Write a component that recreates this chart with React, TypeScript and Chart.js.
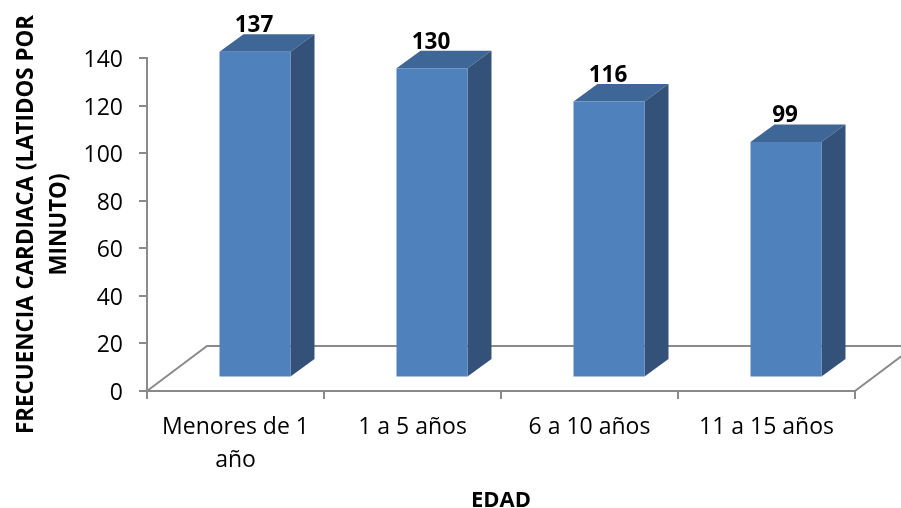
import React, { useEffect, useRef } from "react";
import { Chart, registerables } from "chart.js";

Chart.register(...registerables);

// Mean heart rate by age group
const categories = [["Menores de 1", "año"], "1 a 5 años", "6 a 10 años", "11 a 15 años"];
const heartRates = [137, 130, 116, 99];
const yTitleLines = ["FRECUENCIA CARDIACA (LATIDOS POR", "MINUTO)"];
const xTitle = "EDAD";

const FRONT = "#4F81BD";
const TOP = "#3E6696";
const SIDE = "#335179";
const AXIS = "#8A8A8A";

// Box extrusion and position of the boxes on the floor
const DEPTH_X = 24;
const DEPTH_Y = 17.5;
const SHIFT_X = 19.5;
const SHIFT_Y = 13.5;
const FLOOR_X = 60;
const FLOOR_Y = 45;
const Y_LABEL_NUDGE = 2.5;

const box3d = {
  id: "box3d",
  beforeDraw(chart: any) {
    // The value-axis labels sit slightly below their tick marks
    chart.scales.y.getLabelItems().forEach((item: any) => {
      if (!item.nudged) {
        item.options.translation = [item.options.translation[0], item.options.translation[1] + Y_LABEL_NUDGE];
        item.nudged = true;
      }
    });
  },
  beforeDatasetsDraw(chart: any) {
    const { ctx, chartArea, width } = chart;
    const { left, right, bottom } = chartArea;
    ctx.save();
    // Floor outline
    ctx.strokeStyle = AXIS;
    ctx.lineWidth = 2;
    ctx.beginPath();
    ctx.moveTo(left, bottom);
    ctx.lineTo(left + FLOOR_X, bottom - FLOOR_Y);
    ctx.lineTo(width, bottom - FLOOR_Y);
    ctx.moveTo(right, bottom);
    ctx.lineTo(right + FLOOR_X, bottom - FLOOR_Y);
    ctx.stroke();
    ctx.restore();

    ctx.save();
    ctx.translate(SHIFT_X, -SHIFT_Y);
    // Top and side faces of each box; the front face comes from the bar element
    chart.getDatasetMeta(0).data.forEach((bar: any) => {
      const l = bar.x - bar.width / 2;
      const r = bar.x + bar.width / 2;
      ctx.fillStyle = TOP;
      ctx.beginPath();
      ctx.moveTo(l, bar.y);
      ctx.lineTo(l + DEPTH_X, bar.y - DEPTH_Y);
      ctx.lineTo(r + DEPTH_X, bar.y - DEPTH_Y);
      ctx.lineTo(r, bar.y);
      ctx.closePath();
      ctx.fill();
      ctx.fillStyle = SIDE;
      ctx.beginPath();
      ctx.moveTo(r, bar.y);
      ctx.lineTo(r + DEPTH_X, bar.y - DEPTH_Y);
      ctx.lineTo(r + DEPTH_X, bar.base - DEPTH_Y);
      ctx.lineTo(r, bar.base);
      ctx.closePath();
      ctx.fill();
    });
  },
  afterDatasetsDraw(chart: any) {
    const { ctx } = chart;
    ctx.restore();
    // Value labels above each box
    ctx.save();
    ctx.font = "bold 22.5px 'Open Sans'";
    ctx.fillStyle = "#000000";
    ctx.textAlign = "center";
    ctx.textBaseline = "middle";
    chart.getDatasetMeta(0).data.forEach((bar: any, i: number) => {
      ctx.fillText(String(heartRates[i]), bar.x + SHIFT_X - 1, bar.y - SHIFT_Y - 26);
    });
    ctx.restore();
  },
};

export default function App() {
  const ref = useRef<HTMLCanvasElement>(null);
  useEffect(() => {
    const chart = new Chart(ref.current as HTMLCanvasElement, {
      type: "bar",
      data: {
        labels: categories as any,
        datasets: [
          {
            data: heartRates,
            backgroundColor: FRONT,
            borderWidth: 0,
            barPercentage: 0.401,
            categoryPercentage: 1,
            clip: false as any,
          },
        ],
      },
      options: {
        animation: false,
        responsive: false,
        layout: { padding: { top: 58, right: 46, left: 0, bottom: 0 } },
        plugins: { legend: { display: false }, tooltip: { enabled: false } },
        scales: {
          x: {
            grid: { drawOnChartArea: false, offset: true, color: AXIS, lineWidth: 2, tickLength: 8 },
            border: { color: AXIS, width: 2 },
            ticks: {
              color: "#000000",
              font: { family: "Open Sans", size: 23, lineHeight: 1.42 },
              maxRotation: 0,
              autoSkip: false,
              padding: 12,
            },
            title: {
              display: true,
              text: xTitle,
              color: "#000000",
              font: { family: "Open Sans", size: 22, weight: "bold", lineHeight: 0.62 },
              padding: { top: 0, bottom: 0 },
            },
            afterFit(scale: any) {
              scale.height = 117;
            },
          },
          y: {
            min: 0,
            max: 140,
            grid: { drawOnChartArea: false, color: AXIS, lineWidth: 2, tickLength: 8 },
            border: { color: AXIS, width: 2 },
            ticks: {
              stepSize: 20,
              color: "#000000",
              font: { family: "Open Sans", size: 23 },
              padding: 16,
            },
            title: {
              display: true,
              text: yTitleLines,
              color: "#000000",
              font: { family: "Open Sans", size: 22.4, weight: "bold", lineHeight: 1.47 },
              padding: { top: 10, bottom: 0 },
            },
            afterFit(scale: any) {
              scale.width = 147;
            },
          },
        },
      },
      plugins: [box3d],
    });
    return () => chart.destroy();
  }, []);
  return (
    <div style={{ position: "absolute", left: 0, top: 0, width: 901, height: 508, background: "#fff" }}>
      <canvas ref={ref} width={901} height={508} style={{ display: "block" }} />
    </div>
  );
}
